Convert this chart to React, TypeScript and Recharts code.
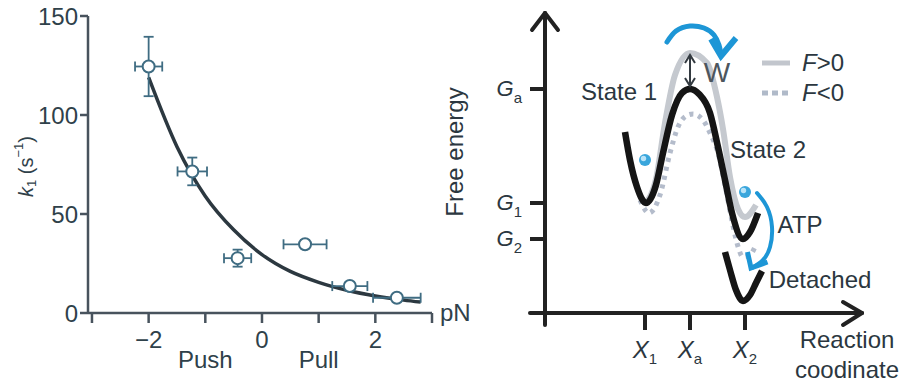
import React from 'react';
import {
  ComposedChart,
  Line,
  Scatter,
  XAxis,
  YAxis,
  ErrorBar,
  ReferenceLine,
  Label,
  Legend,
} from 'recharts';

const FONT = '"Liberation Sans", Arial, Helvetica, sans-serif';
const INK_L = '#2f414a';
const AXIS_L = '#48535d';
const MARK = '#3f6c82';
const FIT = '#2c3840';
const INK_R = '#2b3740';
const AXIS_R = '#222222';
const BLUE = '#1d96d6';

/* ---------- Left panel: k1 versus load ---------- */
const forceTicks = [-3, -2, -1, 0, 1, 2, 3];
const forceTickText = ['', '−2', 'Push', '0', 'Pull', '2', ''];
const rateTicks = [0, 50, 100, 150];

const measuredForce = [-2.0, -1.23, -0.43, 0.76, 1.55, 2.38];
const measuredRate = [124.5, 71.5, 27.7, 34.7, 13.6, 7.7];
const forceErr = [0.24, 0.26, 0.24, 0.38, 0.31, 0.42];
const rateErr = [15, 7, 4.3, 2, 2, 1.5];

const fitForce = [-2.0, -1.5, -1.0, -0.5, 0, 0.5, 1.0, 1.5, 2.0, 2.5, 2.8];
const fitRate = [119, 84, 59, 42, 29.5, 21, 15.5, 11.5, 8.6, 6.5, 5.5];

const measured = measuredForce.map((f, i) => ({ f, k: measuredRate[i], fe: forceErr[i], ke: rateErr[i] }));
const fit = fitForce.map((f, i) => ({ f, k: fitRate[i] }));

/* ---------- Right panel: free-energy landscape ---------- */
const coordTicks = [2.0, 2.9, 4.0];
const coordTickSub = ['1', 'a', '2'];
const energyTicks = [7.4, 11.0, 22.4];
const energyTickSub = ['2', '1', 'a'];

const boundX = [1.6, 1.7, 1.84, 2.02, 2.22, 2.36, 2.54, 2.74, 2.9, 3.08, 3.3, 3.46, 3.6, 3.74, 3.96, 4.1, 4.26];
const boundG = [18.1, 15.3, 12.6, 11.0, 12.8, 16.0, 19.8, 22.0, 22.4, 21.9, 20.0, 16.6, 13.3, 10.0, 7.4, 8.1, 10.0];

const pullX = [2.02, 2.22, 2.4, 2.6, 2.9, 3.24, 3.44, 3.56, 3.7, 3.86, 4.0, 4.22];
const pullG = [11.0, 13.4, 19.0, 23.8, 26.0, 25.0, 21.6, 18.4, 13.6, 10.4, 9.6, 10.8];

const pushX = [1.9, 2.08, 2.3, 2.5, 2.66, 2.82, 2.96, 3.16, 3.3, 3.46, 3.6, 3.74, 3.84, 3.96, 4.1, 4.2];
const pushG = [11.3, 10.0, 11.8, 16.0, 18.6, 19.7, 19.9, 19.3, 18.0, 16.0, 12.8, 9.2, 7.0, 5.6, 5.8, 6.6];

const detachedX = [3.6, 3.7, 3.82, 3.96, 4.1, 4.22, 4.34];
const detachedG = [6.1, 4.3, 2.3, 1.2, 1.8, 3.0, 4.2];

const ballX = [2.0, 4.0];
const ballG = [15.3, 12.1];

const hopX = [2.44, 2.62, 2.9, 3.18, 3.38, 3.48, 3.52];
const hopG = [27.1, 28.2, 28.7, 28.5, 27.8, 26.8, 25.9];
const hopHeadX = [3.32, 3.52, 3.82];
const hopHeadG = [27.4, 25.7, 27.5];

const atpX = [4.24, 4.44, 4.54, 4.5, 4.36, 4.14];
const atpG = [12.0, 10.6, 8.6, 6.6, 5.3, 4.5];
const atpHeadX = [4.05, 4.12, 4.45];
const atpHeadG = [6.1, 4.5, 5.1];

const workX = [2.9, 2.9];
const workG = [25.8, 22.7];
const workTopX = [2.8, 2.9, 3.0];
const workTopG = [25.0, 25.8, 25.0];
const workBotX = [2.8, 2.9, 3.0];
const workBotG = [23.5, 22.7, 23.5];

const noteText = ['State 1', 'State 2', 'ATP', 'Detached'];
const noteX = [1.48, 4.46, 5.1, 5.5];
const noteG = [22.1, 16.3, 8.8, 3.3];
const workNote = [{ x: 3.44, y: 24.1, label: 'W' }];

const legendNames = ['F>0', 'F<0'];

const pts = (xs: number[], ys: number[]) => xs.map((x, i) => ({ x, y: ys[i] }));
const bound = pts(boundX, boundG);
const pull = pts(pullX, pullG);
const push = pts(pushX, pushG);
const detached = pts(detachedX, detachedG);
const balls = pts(ballX, ballG);
const hop = pts(hopX, hopG);
const hopHead = pts(hopHeadX, hopHeadG);
const atp = pts(atpX, atpG);
const atpHead = pts(atpHeadX, atpHeadG);
const work = pts(workX, workG);
const workTop = pts(workTopX, workTopG);
const workBot = pts(workBotX, workBotG);
const notes = noteText.map((label, i) => ({ x: noteX[i], y: noteG[i], label }));

/* ---------- render helpers ---------- */
const ForceTick = (props: any) => {
  const { x, y, payload } = props;
  const i = forceTicks.indexOf(payload.value);
  const text = i >= 0 ? forceTickText[i] : '';
  if (!text) return <g />;
  const isWord = text === 'Push' || text === 'Pull';
  return (
    <text x={x} y={y + (isWord ? 37 : 17)} textAnchor="middle" fontSize={24} fill={INK_L} fontFamily={FONT}>
      {text}
    </text>
  );
};

const RateLabel = (props: any) => {
  const vb = props.viewBox || {};
  const cx = (vb.x ?? 0) + 26;
  const cy = (vb.y ?? 16) + (vb.height ?? 297) / 2 + 2;
  return (
    <text
      transform={`rotate(-90 ${cx} ${cy})`}
      x={cx}
      y={cy}
      textAnchor="middle"
      dominantBaseline="central"
      fontSize={20}
      fill={INK_L}
      fontFamily={FONT}
    >
      <tspan fontStyle="italic">k</tspan>
      <tspan fontSize={13} dy={5}>1</tspan>
      <tspan dy={-5}> (s</tspan>
      <tspan fontSize={13} dy={-8}>−1</tspan>
      <tspan dy={8}>)</tspan>
    </text>
  );
};

const UnitLabel = (props: any) => {
  const vb = props.viewBox || {};
  return (
    <text x={(vb.x ?? 88) + (vb.width ?? 344) + 8} y={(vb.y ?? 313) + 8} fontSize={24} fill={INK_L} fontFamily={FONT}>
      pN
    </text>
  );
};

const OpenCircle = (p: any) => (
  <circle cx={p.cx} cy={p.cy} r={6} fill="#ffffff" stroke={MARK} strokeWidth={2} />
);

const EnergyTick = (props: any) => {
  const { x, y, payload } = props;
  const i = energyTicks.indexOf(payload.value);
  return (
    <text x={x} y={y} dy={7} textAnchor="end" fill={INK_R} fontFamily={FONT}>
      <tspan fontSize={22} fontStyle="italic">G</tspan>
      <tspan fontSize={15} dy={7}>{energyTickSub[i]}</tspan>
    </text>
  );
};

const CoordTick = (props: any) => {
  const { x, y, payload } = props;
  const i = coordTicks.indexOf(payload.value);
  return (
    <text x={x} y={y + 20} textAnchor="middle" fill={INK_R} fontFamily={FONT}>
      <tspan fontSize={24} fontStyle="italic">X</tspan>
      <tspan fontSize={15} dy={6}>{coordTickSub[i]}</tspan>
    </text>
  );
};

const CoordLabel = (props: any) => {
  const vb = props.viewBox || {};
  const cx = (vb.x ?? 105) + (vb.width ?? 317) - 15;
  const y0 = vb.y ?? 313;
  return (
    <text textAnchor="middle" fontSize={24} fill={INK_R} fontFamily={FONT}>
      <tspan x={cx} y={y0 + 35}>Reaction</tspan>
      <tspan x={cx} y={y0 + 65}>coodinate</tspan>
    </text>
  );
};

const EnergyLabel = (props: any) => {
  const vb = props.viewBox || {};
  const cx = (vb.x ?? 0) + 14;
  const cy = (vb.y ?? 13) + (vb.height ?? 300) / 2 - 11;
  return (
    <text
      transform={`rotate(-90 ${cx} ${cy})`}
      x={cx}
      y={cy}
      textAnchor="middle"
      dominantBaseline="central"
      fontSize={24}
      fill={INK_R}
      fontFamily={FONT}
    >
      Free energy
    </text>
  );
};

const Ball = (p: any) => (
  <g>
    <circle cx={p.cx} cy={p.cy} r={6} fill="#3aa6dc" />
    <circle cx={p.cx - 1.5} cy={p.cy - 1.5} r={2.7} fill="#b9e3f7" />
  </g>
);

const NoteText = (p: any) => (
  <text x={p.cx} y={p.cy} dy="0.35em" textAnchor="middle" fontSize={24} fill={INK_R} fontFamily={FONT}>
    {p.payload.label}
  </text>
);

const WorkText = (p: any) => (
  <text x={p.cx} y={p.cy} dy="0.36em" textAnchor="middle" fontSize={28} fill="#4d565e" fontFamily={FONT}>
    {p.payload.label}
  </text>
);

const LegendBox = () => (
  <div style={{ fontFamily: FONT, color: INK_R, fontSize: 24, lineHeight: '30px' }}>
    {legendNames.map((name, i) => (
      <div key={name} style={{ display: 'flex', alignItems: 'center', height: 30 }}>
        <svg width={32} height={30} style={{ display: 'block' }}>
          <line
            x1={2}
            x2={30}
            y1={15}
            y2={15}
            stroke={i === 0 ? '#c2c6cd' : '#b0bac9'}
            strokeWidth={5}
            strokeDasharray={i === 0 ? undefined : '6 4'}
          />
        </svg>
        <span style={{ marginLeft: 10 }}>
          <i>{name.slice(0, 1)}</i>
          {name.slice(1)}
        </span>
      </div>
    ))}
  </div>
);

const seg = (a: [number, number], b: [number, number]) => [
  { x: a[0], y: a[1] },
  { x: b[0], y: b[1] },
];

export default function App() {
  const axisSegs = [
    seg([0, -1.2], [0, 30]),
    seg([-0.3, 0], [6.34, 0]),
    seg([-0.26, 28.3], [0, 30]),
    seg([0, 30], [0.26, 28.3]),
    seg([5.96, 1.1], [6.34, 0]),
    seg([6.34, 0], [5.96, -1.2]),
  ];
  return (
    <div
      style={{
        position: 'absolute',
        left: 0,
        top: 0,
        width: 903,
        height: 385,
        background: '#ffffff',
        fontFamily: FONT,
        overflow: 'hidden',
      }}
    >
      <div style={{ position: 'absolute', left: 0, top: 0 }}>
        <ComposedChart width={480} height={385} margin={{ top: 16, right: 48, bottom: 0, left: 0 }}>
          <XAxis
            type="number"
            dataKey="f"
            domain={[-3.07, 3]}
            ticks={forceTicks}
            interval={0}
            tickSize={10}
            tickMargin={8}
            axisLine={{ stroke: AXIS_L, strokeWidth: 2.5 }}
            tickLine={{ stroke: AXIS_L, strokeWidth: 2.5 }}
            tick={<ForceTick />}
            height={72}
          >
            <Label content={<UnitLabel />} />
          </XAxis>
          <YAxis
            type="number"
            dataKey="k"
            domain={[0, 150]}
            ticks={rateTicks}
            interval={0}
            tickSize={8}
            tickMargin={2}
            width={88}
            axisLine={{ stroke: AXIS_L, strokeWidth: 2.5 }}
            tickLine={{ stroke: AXIS_L, strokeWidth: 2.5 }}
            tick={{ fontSize: 24, fill: INK_L, fontFamily: FONT }}
          >
            <Label content={<RateLabel />} />
          </YAxis>
          <Line
            data={fit}
            dataKey="k"
            type="monotone"
            stroke={FIT}
            strokeWidth={3.5}
            dot={false}
            activeDot={false}
            isAnimationActive={false}
          />
          <Scatter data={measured} shape={<OpenCircle />} isAnimationActive={false}>
            <ErrorBar dataKey="fe" direction="x" width={5} stroke={MARK} strokeWidth={1.8} isAnimationActive={false} />
            <ErrorBar dataKey="ke" direction="y" width={5} stroke={MARK} strokeWidth={1.8} isAnimationActive={false} />
          </Scatter>
        </ComposedChart>
      </div>

      <div style={{ position: 'absolute', left: 440, top: 0 }}>
        <ComposedChart width={463} height={385} margin={{ top: 13, right: 41, bottom: 0, left: 0 }}>
          <XAxis
            type="number"
            dataKey="x"
            domain={[0, 6.34]}
            ticks={coordTicks}
            interval={0}
            tickSize={17}
            tickMargin={8}
            axisLine={false}
            tickLine={{ stroke: AXIS_R, strokeWidth: 4 }}
            tick={<CoordTick />}
            height={72}
          >
            <Label content={<CoordLabel />} />
          </XAxis>
          <YAxis
            type="number"
            dataKey="y"
            domain={[0, 30]}
            ticks={energyTicks}
            interval={0}
            tickSize={15}
            tickMargin={8}
            width={105}
            axisLine={false}
            tickLine={{ stroke: AXIS_R, strokeWidth: 4 }}
            tick={<EnergyTick />}
          >
            <Label content={<EnergyLabel />} />
          </YAxis>
          {axisSegs.map((s, i) => (
            <ReferenceLine
              key={i}
              segment={s}
              ifOverflow="visible"
              stroke={AXIS_R}
              strokeWidth={4}
              strokeLinecap="round"
            />
          ))}
          <Line data={pull} dataKey="y" type="monotone" stroke="#c5c9cf" strokeWidth={6} dot={false} activeDot={false} isAnimationActive={false} />
          <Line data={push} dataKey="y" type="monotone" stroke="#b4bccb" strokeWidth={5} strokeDasharray="4 5" dot={false} activeDot={false} isAnimationActive={false} />
          <Line data={bound} dataKey="y" type="monotone" stroke="#151515" strokeWidth={6.5} dot={false} activeDot={false} isAnimationActive={false} />
          <Line data={detached} dataKey="y" type="monotone" stroke="#151515" strokeWidth={6.5} dot={false} activeDot={false} isAnimationActive={false} />
          <Line data={work} dataKey="y" type="linear" stroke="#333a40" strokeWidth={2} dot={false} activeDot={false} isAnimationActive={false} />
          <Line data={workTop} dataKey="y" type="linear" stroke="#333a40" strokeWidth={2} dot={false} activeDot={false} isAnimationActive={false} />
          <Line data={workBot} dataKey="y" type="linear" stroke="#333a40" strokeWidth={2} dot={false} activeDot={false} isAnimationActive={false} />
          <Line data={hop} dataKey="y" type="natural" stroke={BLUE} strokeWidth={5} strokeLinecap="round" dot={false} activeDot={false} isAnimationActive={false} />
          <Line data={hopHead} dataKey="y" type="linear" stroke={BLUE} strokeWidth={6} strokeLinejoin="miter" dot={false} activeDot={false} isAnimationActive={false} />
          <Line data={atp} dataKey="y" type="natural" stroke={BLUE} strokeWidth={4} strokeLinecap="round" dot={false} activeDot={false} isAnimationActive={false} />
          <Line data={atpHead} dataKey="y" type="linear" stroke={BLUE} strokeWidth={5} strokeLinejoin="miter" dot={false} activeDot={false} isAnimationActive={false} />
          <Scatter data={balls} shape={<Ball />} isAnimationActive={false} />
          <Scatter data={notes} shape={<NoteText />} isAnimationActive={false} />
          <Scatter data={workNote} shape={<WorkText />} isAnimationActive={false} />
          <Legend
            layout="horizontal"
            align="center"
            verticalAlign="middle"
            wrapperStyle={{ left: 320, top: 48, width: 'auto', height: 'auto' }}
            content={() => <LegendBox />}
          />
        </ComposedChart>
      </div>
    </div>
  );
}
